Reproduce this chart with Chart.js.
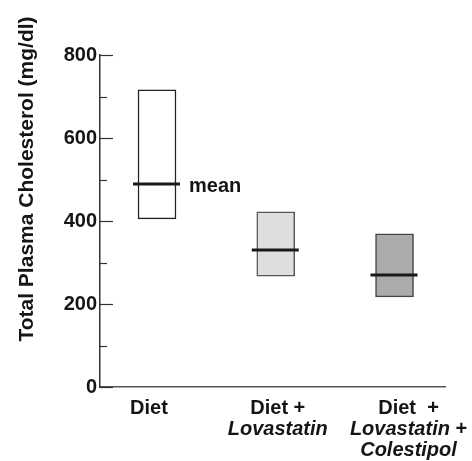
<!DOCTYPE html>
<html>
<head>
<meta charset="utf-8">
<script src="https://cdn.jsdelivr.net/npm/chart.js@4/dist/chart.umd.min.js"></script>
<style>
  html, body { margin: 0; padding: 0; background: #fff; }
  #wrap { width: 472px; height: 461px; }
</style>
</head>
<body>
<div id="wrap"><canvas id="grafik"></canvas></div>
<script>
// ===== data =====
const groups = ["Diet", "Diet + Lovastatin", "Diet + Lovastatin + Colestipol"];
const lows = [405, 267, 217];
const highs = [716, 422, 369];
const means = [489, 330, 270];
const yMajor = [0, 200, 400, 600, 800];
const yMinor = [100, 300, 500, 700];
const yTitle = "Total Plasma Cholesterol (mg/dl)";
const meanText = "mean";
// x label lines, each line a list of [text, italic]
const xLabels = [
  [[["Diet", false]]],
  [[["Diet +", false]], [["Lovastatin", true]]],
  [[["Diet  +", false]], [["Lovastatin", true], [" +", false]], [["Colestipol", true]]]
];

const FONT = "'Liberation Sans', Arial, Helvetica, sans-serif";
const INK = "#151515";

// ===== helpers =====
function fontOf(italic, size) {
  return (italic ? "italic " : "") + "bold " + (size || 20) + "px " + FONT;
}

function lineWidth(ctx, parts) {
  let w = 0;
  parts.forEach(p => { ctx.font = fontOf(p[1]); w += ctx.measureText(p[0]).width; });
  return w;
}

// ===== plugins =====
const extras = {
  id: "extras",
  afterDatasetsDraw(chart) {
    const ctx = chart.ctx;
    const ys = chart.scales.y;
    const area = chart.chartArea;
    const bars = chart.getDatasetMeta(0).data;

    ctx.save();
    // mean lines
    ctx.strokeStyle = "#1a1a1a";
    ctx.lineWidth = 3;
    bars.forEach((b, i) => {
      const y = ys.getPixelForValue(means[i]);
      ctx.beginPath();
      ctx.moveTo(b.x - b.width / 2 - 5, y);
      ctx.lineTo(b.x + b.width / 2 + 4, y);
      ctx.stroke();
    });

    // "mean" label next to first line
    ctx.fillStyle = INK;
    ctx.font = fontOf(false);
    ctx.textBaseline = "middle";
    ctx.textAlign = "left";
    ctx.fillText(meanText, bars[0].x + bars[0].width / 2 + 13, ys.getPixelForValue(means[0]) + 2);

    // inward ticks on y axis
    ctx.strokeStyle = "#333";
    ctx.lineWidth = 1.2;
    yMajor.forEach(v => {
      const y = Math.round(ys.getPixelForValue(v)) + 0.5;
      ctx.beginPath(); ctx.moveTo(area.left, y); ctx.lineTo(area.left + 13, y); ctx.stroke();
    });
    yMinor.forEach(v => {
      const y = Math.round(ys.getPixelForValue(v)) + 0.5;
      ctx.beginPath(); ctx.moveTo(area.left, y); ctx.lineTo(area.left + 7, y); ctx.stroke();
    });

    // x labels
    const shift = [-8, 2, 14];
    ctx.textAlign = "left";
    ctx.textBaseline = "middle";
    bars.forEach((b, i) => {
      xLabels[i].forEach((parts, j) => {
        let x = b.x + shift[i] - lineWidth(ctx, parts) / 2;
        const y = area.bottom + 21 + j * 21;
        parts.forEach(p => {
          ctx.font = fontOf(p[1]);
          ctx.fillText(p[0], x, y);
          x += ctx.measureText(p[0]).width;
        });
      });
    });

    // y title
    ctx.translate(27, 179);
    ctx.rotate(-Math.PI / 2);
    ctx.textAlign = "center";
    ctx.font = fontOf(false, 21);
    ctx.fillText(yTitle, 0, 0);
    ctx.restore();
  }
};

// ===== chart =====
const chart = new Chart(document.getElementById("grafik"), {
  type: "bar",
  data: {
    datasets: [{
      data: groups.map((g, i) => ({ x: i, y: [lows[i], highs[i]] })),
      backgroundColor: ["#ffffff", "#dedede", "#ababab"],
      borderColor: ["#222", "#555", "#444"],
      borderWidth: 1.5,
      borderSkipped: false,
      barThickness: 38
    }]
  },
  options: {
    responsive: true,
    maintainAspectRatio: false,
    animation: false,
    layout: { padding: { top: 55, right: 27, left: 0, bottom: 0 } },
    plugins: { legend: { display: false }, tooltip: { enabled: false } },
    scales: {
      x: {
        type: "linear",
        offset: false,
        min: -0.48,
        max: 2.425,
        grid: { display: false, drawTicks: false },
        border: { display: true, color: "#555", width: 1.5 },
        ticks: { display: false },
        afterFit(s) { s.height = 74; }
      },
      y: {
        min: 0,
        max: 800,
        grid: { display: false, drawTicks: false },
        border: { display: true, color: "#333", width: 1.5 },
        ticks: {
          stepSize: 200,
          padding: 3,
          color: INK,
          font: { family: FONT, size: 20, weight: "bold" }
        },
        afterFit(s) { s.width = 100; }
      }
    }
  },
  plugins: [extras]
});
</script>
</body>
</html>
